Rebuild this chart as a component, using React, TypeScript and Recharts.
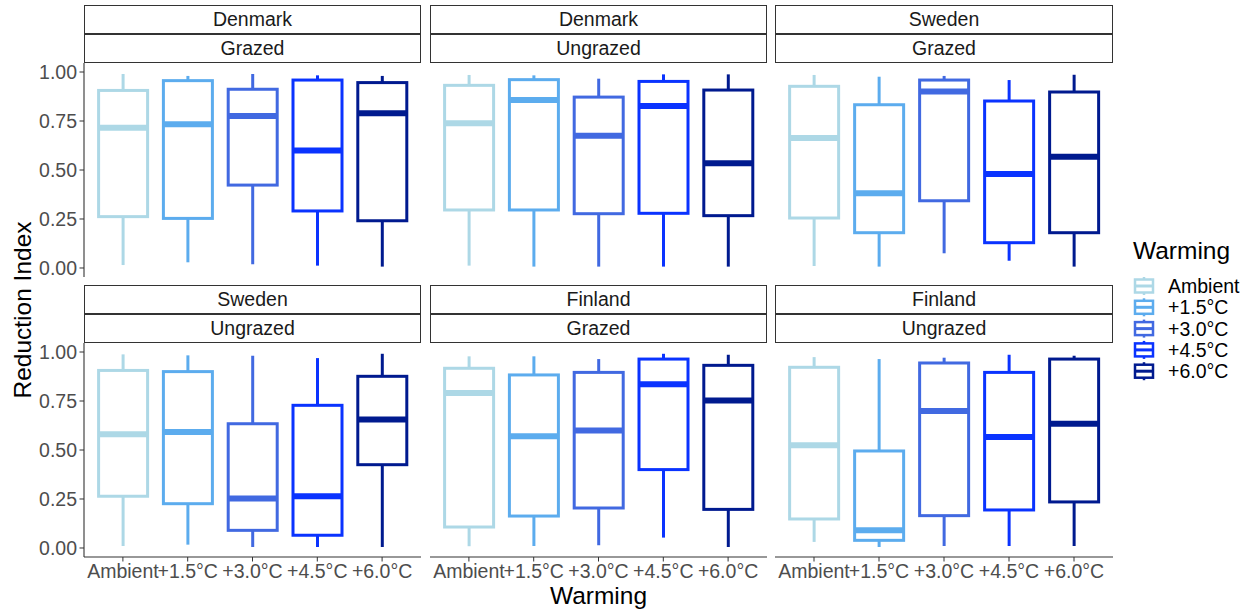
import React from "react"
import { ComposedChart, Bar, XAxis, YAxis } from "recharts"

const warmingLevels = ["Ambient", "+1.5°C", "+3.0°C", "+4.5°C", "+6.0°C"]
const warmingColors = ["#ADD8E6", "#5CACEE", "#4169E1", "#0A33FF", "#001A8F"]
const yTicks = [0, 0.25, 0.5, 0.75, 1]

// each row: [min, lower hinge, median, upper hinge, max]
const denmarkGrazed = [
  [0.015, 0.262, 0.716, 0.906, 0.99],
  [0.029, 0.253, 0.733, 0.956, 0.98],
  [0.019, 0.423, 0.776, 0.912, 0.99],
  [0.012, 0.291, 0.599, 0.959, 0.983],
  [0.007, 0.241, 0.789, 0.946, 0.98],
]
const denmarkUngrazed = [
  [0.012, 0.296, 0.738, 0.932, 0.985],
  [0.007, 0.296, 0.857, 0.961, 0.983],
  [0.007, 0.277, 0.675, 0.872, 0.966],
  [0.007, 0.279, 0.827, 0.952, 0.988],
  [0.007, 0.267, 0.534, 0.908, 0.988],
]
const swedenGrazed = [
  [0.01, 0.255, 0.663, 0.927, 0.985],
  [0.007, 0.18, 0.381, 0.833, 0.976],
  [0.075, 0.343, 0.9, 0.959, 0.98],
  [0.037, 0.129, 0.48, 0.852, 0.959],
  [0.007, 0.18, 0.568, 0.898, 0.986],
]
const swedenUngrazed = [
  [0.01, 0.264, 0.58, 0.906, 0.988],
  [0.017, 0.226, 0.592, 0.9, 0.983],
  [0.005, 0.09, 0.252, 0.634, 0.981],
  [0.005, 0.065, 0.264, 0.728, 0.969],
  [0.005, 0.425, 0.656, 0.876, 0.991],
]
const finlandGrazed = [
  [0.009, 0.107, 0.791, 0.917, 0.978],
  [0.01, 0.163, 0.57, 0.883, 0.978],
  [0.014, 0.204, 0.6, 0.896, 0.964],
  [0.053, 0.4, 0.835, 0.964, 0.991],
  [0.005, 0.197, 0.753, 0.932, 0.986],
]
const finlandUngrazed = [
  [0.031, 0.148, 0.524, 0.922, 0.974],
  [0.005, 0.039, 0.09, 0.495, 0.964],
  [0.01, 0.165, 0.699, 0.944, 0.971],
  [0.01, 0.194, 0.566, 0.896, 0.986],
  [0.01, 0.235, 0.634, 0.964, 0.981],
]

const panels = [
  { country: "Denmark", grazing: "Grazed", stats: denmarkGrazed },
  { country: "Denmark", grazing: "Ungrazed", stats: denmarkUngrazed },
  { country: "Sweden", grazing: "Grazed", stats: swedenGrazed },
  { country: "Sweden", grazing: "Ungrazed", stats: swedenUngrazed },
  { country: "Finland", grazing: "Grazed", stats: finlandGrazed },
  { country: "Finland", grazing: "Ungrazed", stats: finlandUngrazed },
]

const font = "'Liberation Sans', Arial, sans-serif"
const colLeft = [84, 430, 775]
const colWidth = [337, 337, 338]
const rowTop = [63, 343]
const stripTop = [5, 285]
const plotH = 214
const yAxisW = 84
const xAxisH = 40
const pad = 12 // room so the end tick labels are not clipped
const smallText = 19.5
const bigText = 24.5

function BoxShape(props: any) {
  const { x, y, width, height, payload } = props
  if (!payload) return null
  const top = Math.min(y, y + height)
  const h = Math.abs(height)
  const span = payload.max - payload.min || 1
  const py = (v: number) => top + ((payload.max - v) / span) * h
  const cx = x + width / 2
  const c = payload.color
  return (
    <g>
      <line x1={cx} x2={cx} y1={py(payload.max)} y2={py(payload.q3)} stroke={c} strokeWidth={3} />
      <line x1={cx} x2={cx} y1={py(payload.q1)} y2={py(payload.min)} stroke={c} strokeWidth={3} />
      <rect
        x={x}
        y={py(payload.q3)}
        width={width}
        height={py(payload.q1) - py(payload.q3)}
        fill="#fff"
        stroke={c}
        strokeWidth={3}
      />
      <line x1={x} x2={x + width} y1={py(payload.median)} y2={py(payload.median)} stroke={c} strokeWidth={6} />
    </g>
  )
}

function Panel({ index }: { index: number }) {
  const p = panels[index]
  const row = Math.floor(index / 3)
  const col = index % 3
  const data = p.stats.map((s, i) => ({
    name: warmingLevels[i],
    min: s[0],
    q1: s[1],
    median: s[2],
    q3: s[3],
    max: s[4],
    color: warmingColors[i],
  }))
  const left = col === 0 ? 0 : colLeft[col]
  const width = col === 0 ? yAxisW + colWidth[0] : colWidth[col]
  const bottomPad = row === 0 ? pad : 0
  const height = pad + plotH + bottomPad + (row === 1 ? xAxisH : 0)

  const stripStyle: React.CSSProperties = {
    position: "absolute",
    left: colLeft[col],
    width: colWidth[col],
    boxSizing: "border-box",
    border: "1px solid #333",
    background: "#fff",
    textAlign: "center",
    fontSize: smallText,
    color: "#1A1A1A",
    fontFamily: font,
  }

  return (
    <>
      <div style={{ position: "absolute", left, top: rowTop[row] - pad }}>
        <ComposedChart
          width={width}
          height={height}
          data={data}
          margin={{ top: pad, right: 0, bottom: bottomPad, left: 0 }}
          barCategoryGap="12.5%"
        >
          <XAxis
            dataKey="name"
            hide={row === 0}
            height={xAxisH}
            interval={0}
            padding={{ left: 6.5, right: 6.5 }}
            axisLine={{ stroke: "#333", strokeWidth: 1.1 }}
            tickLine={{ stroke: "#333" }}
            tickSize={4.5}
            tickMargin={3}
            tick={{ fill: "#4D4D4D", fontSize: smallText, fontFamily: font }}
          />
          <YAxis
            type="number"
            domain={[-0.046, 1.046]}
            ticks={yTicks}
            interval={0}
            hide={col !== 0}
            width={yAxisW}
            allowDataOverflow
            tickFormatter={(v: number) => v.toFixed(2)}
            axisLine={{ stroke: "#333", strokeWidth: 1.1 }}
            tickLine={{ stroke: "#333" }}
            tickSize={4.5}
            tickMargin={2.5}
            tick={{ fill: "#4D4D4D", fontSize: smallText, fontFamily: font }}
          />
          <Bar
            dataKey={(d: any) => [d.min, d.max]}
            shape={BoxShape}
            isAnimationActive={false}
          />
        </ComposedChart>
      </div>
      <div style={{ ...stripStyle, top: stripTop[row], height: 29, lineHeight: "27px" }}>{p.country}</div>
      <div style={{ ...stripStyle, top: stripTop[row] + 29, height: 29, lineHeight: "27px" }}>{p.grazing}</div>
    </>
  )
}

function Overlay() {
  return (
    <svg style={{ position: "absolute", left: 0, top: 0, pointerEvents: "none" }} width={1251} height={611}>
      <text x={1133} y={259} fontSize={bigText} fontFamily={font} fill="#000">
        Warming
      </text>
      {warmingLevels.map((lab, i) => {
        const cy = 286 + i * 21.3
        const c = warmingColors[i]
        return (
          <g key={lab}>
            <line x1={1144} x2={1144} y1={cy - 9} y2={cy + 9} stroke={c} strokeWidth={2.5} />
            <rect x={1135} y={cy - 6.5} width={18} height={13} fill="#fff" stroke={c} strokeWidth={2.5} />
            <line x1={1135} x2={1153} y1={cy} y2={cy} stroke={c} strokeWidth={3} />
            <text x={1168} y={cy + 7} fontSize={smallText} fontFamily={font} fill="#000">
              {lab}
            </text>
          </g>
        )
      })}
      <text x={598.5} y={604} fontSize={bigText} fontFamily={font} fill="#000" textAnchor="middle">
        Warming
      </text>
      <text
        x={0}
        y={0}
        fontSize={bigText}
        fontFamily={font}
        fill="#000"
        textAnchor="middle"
        transform="translate(31,310) rotate(-90)"
      >
        Reduction Index
      </text>
    </svg>
  )
}

export default function App() {
  return (
    <div style={{ position: "absolute", left: 0, top: 0, width: 1251, height: 611, background: "#fff", overflow: "hidden" }}>
      {panels.map((_, i) => (
        <Panel key={i} index={i} />
      ))}
      <Overlay />
    </div>
  )
}
